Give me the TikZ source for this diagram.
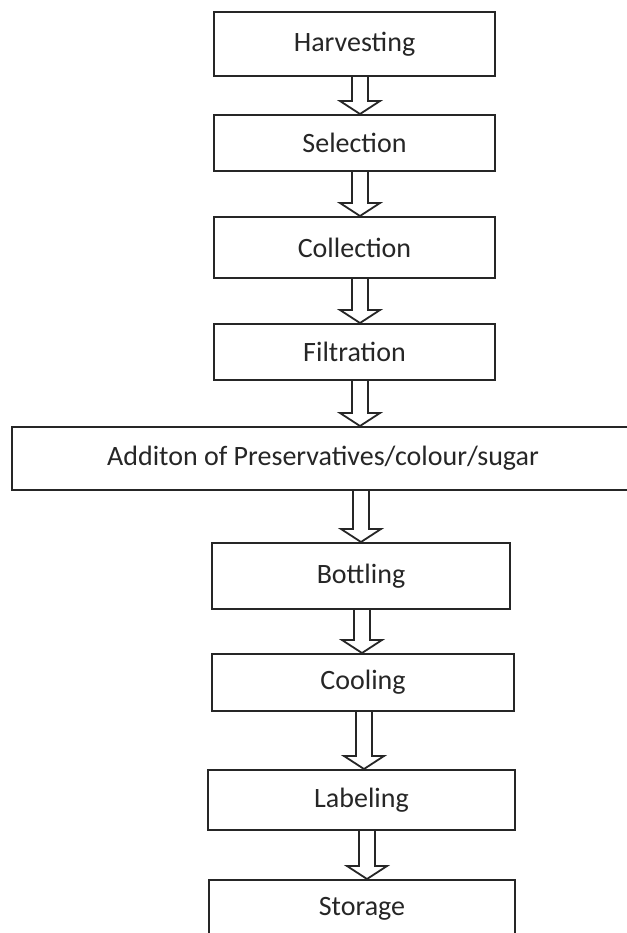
\documentclass[tikz,border=0pt]{standalone}
\usepackage{fontspec}
\setmainfont{Carlito}
\usetikzlibrary{calc}

% hollow block arrow from the bottom of one box to the top of the next
\newcommand{\flowarrow}[3]{%
  \draw[arrowline] let \p1=(#1.south), \p2=(#2.north) in
    (#3-8pt,\y1) -- (#3-8pt,\y2+13pt) -- (#3-20pt,\y2+13pt) -- (#3,\y2)
    -- (#3+20pt,\y2+13pt) -- (#3+8pt,\y2+13pt) -- (#3+8pt,\y1);
}

\begin{document}
\begin{tikzpicture}[x=1pt,y=-1pt,line width=2pt,
    box/.style={draw=black!85,fill=white,inner sep=0pt,
      font=\fontsize{28}{34}\selectfont,text=black!85},
    arrowline/.style={draw=black!85,line width=1.8pt,line join=miter}]

      \useasboundingbox (0,0) rectangle (626,933);

      \node[box,minimum width=281pt,minimum height=64pt] (harv) at (354.5,44) {Harvesting};
      \node[box,minimum width=281pt,minimum height=56pt] (sel) at (354.5,143) {Selection};
      \node[box,minimum width=281pt,minimum height=61pt] (coll) at (354.5,247.5) {Collection};
      \node[box,minimum width=281pt,minimum height=56pt] (filt) at (354.5,352) {Filtration};
      \node[box,minimum width=622pt,minimum height=63pt] (add) at (323,458.5) {Additon of Preservatives/colour/sugar};
      \node[box,minimum width=298pt,minimum height=66pt] (bott) at (361,576) {Bottling};
      \node[box,minimum width=302pt,minimum height=57pt] (cool) at (363,682.5) {Cooling};
      \node[box,minimum width=307pt,minimum height=60pt] (lab) at (361.5,800) {Labeling};
      \node[box,minimum width=306pt,minimum height=58pt] (stor) at (362,909) {Storage};

      \flowarrow{harv}{sel}{360pt}
      \flowarrow{sel}{coll}{360pt}
      \flowarrow{coll}{filt}{360pt}
      \flowarrow{filt}{add}{360pt}
      \flowarrow{add}{bott}{361pt}
      \flowarrow{bott}{cool}{362pt}
      \flowarrow{cool}{lab}{364pt}
      \flowarrow{lab}{stor}{367pt}

    \end{tikzpicture}
\end{document}
